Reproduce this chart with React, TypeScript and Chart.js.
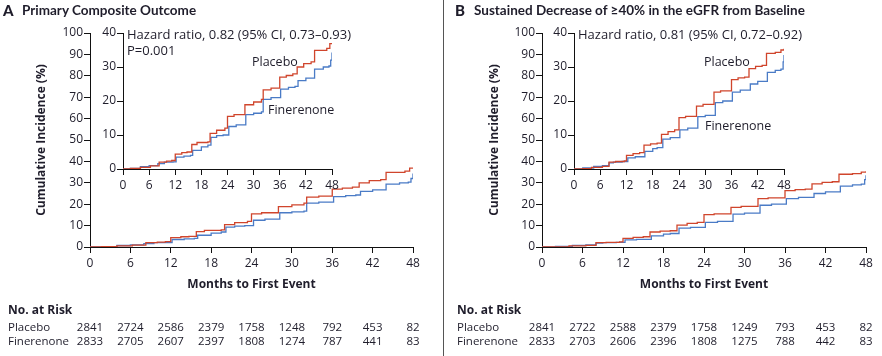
import React, { useEffect, useRef } from 'react';
import { Chart, registerables } from 'chart.js';

Chart.register(...registerables);

const FONT = '"Open Sans", Lato, sans-serif';
const TITLE_FONT = 'Lato, "Open Sans", sans-serif';
const TEXT = '#1f1d2b';
const RED = '#d0452c';
const BLUE = '#4a7bc6';
const AXIS = '#111111';

// ---------- Data ----------
const riskMonths = [0, 6, 12, 18, 24, 30, 36, 42, 48];

// Panel A: Primary composite outcome (cumulative incidence, %)
const placeboMonthsA = [0, 1.7, 4, 6.3, 8.3, 10, 11.2, 12, 13.5, 14.7, 15.8, 17, 19.5, 20, 21.5, 23.4, 24, 25.5, 28, 30, 31.8, 32.2, 34, 36, 37.5, 39, 40, 41.5, 43.2, 44, 46.8, 47.5, 48];
const placeboValuesA = [0, 0.2, 0.5, 0.9, 2.0, 2.3, 2.5, 4.4, 4.8, 5.0, 7.2, 7.8, 8.0, 10.5, 11.4, 12.0, 15.5, 16.0, 18.9, 19.7, 20.5, 23.3, 23.8, 27.0, 27.5, 28.0, 30.0, 31.0, 31.5, 34.9, 35.5, 36.9, 37.0];
const finerenoneMonthsA = [0, 1.7, 4, 6, 8, 9.5, 11.5, 12.2, 14, 15.5, 16, 18, 19.5, 20.2, 21.5, 23, 24.3, 26, 28.2, 30, 31.8, 32.2, 34, 36.2, 38, 39.5, 40.2, 42, 44, 46, 47.3, 47.7, 48];
const finerenoneValuesA = [0, 0.2, 0.7, 1.0, 1.6, 2.0, 2.1, 3.5, 3.8, 4.0, 5.5, 6.5, 7.0, 9.3, 9.8, 10.0, 12.5, 13.0, 16.0, 16.4, 16.8, 20.5, 21.0, 23.5, 24.0, 24.3, 26.0, 26.7, 29.4, 30.0, 30.3, 32.0, 34.3];
const riskPlaceboA = [2841, 2724, 2586, 2379, 1758, 1248, 792, 453, 82];
const riskFinerenoneA = [2833, 2705, 2607, 2397, 1808, 1274, 787, 441, 83];

// Panel B: Sustained decrease of >=40% in eGFR
const placeboMonthsB = [0, 2, 4, 6.5, 8, 9.5, 11.5, 12, 13.5, 15, 16, 17.5, 19, 20, 21.5, 23, 24, 25.5, 28, 29.5, 32, 33.5, 36, 37.5, 39, 40, 41.5, 43, 44, 46, 47.3, 48];
const placeboValuesB = [0, 0.1, 0.5, 0.8, 2.0, 2.2, 2.4, 4.0, 4.5, 4.8, 7.0, 7.4, 7.6, 10.2, 11.0, 11.5, 15.1, 15.5, 18.5, 19.0, 22.6, 23.0, 26.3, 26.8, 27.0, 29.5, 30.2, 30.5, 34.0, 34.3, 35.0, 35.4];
const finerenoneMonthsB = [0, 2, 4.5, 6.5, 8, 9, 11, 12.3, 14, 16.2, 18, 19, 20.3, 22, 24.2, 26, 28.3, 30, 32.3, 34, 36.2, 38, 40.3, 42, 44.2, 46, 47.3, 47.8, 48];
const finerenoneValuesB = [0, 0.3, 0.8, 1.0, 1.8, 2.0, 2.2, 3.3, 3.6, 5.2, 6.0, 6.3, 8.8, 9.2, 11.5, 12.0, 15.4, 15.8, 19.5, 20.0, 22.6, 23.2, 25.0, 25.8, 28.4, 29.0, 29.4, 31.5, 33.5];
const riskPlaceboB = [2841, 2722, 2588, 2379, 1758, 1249, 793, 453, 82];
const riskFinerenoneB = [2833, 2703, 2606, 2396, 1808, 1275, 788, 442, 83];

// ---------- helpers ----------
function points(t: number[], v: number[]) {
  return t.map((x, i) => ({ x, y: v[i] }));
}

type ChartParams = {
  yMax: number;
  axisW: number;
  axisH: number;
  pad: { top: number; right: number; bottom: number; left: number };
  placebo: { x: number; y: number }[];
  fin: { x: number; y: number }[];
  tickSize: number;
  tickPadX: number;
  yTitlePad?: number;
  xTitlePad?: number;
  extra?: any[];
};

function buildChart(canvas: HTMLCanvasElement, p: ChartParams) {
  const titleFont = { family: FONT, size: 12, weight: 'bold' as const };
  return new Chart(canvas, {
    type: 'line',
    data: {
      datasets: [
        { label: 'Placebo', data: p.placebo, borderColor: RED, borderWidth: 1.3, pointRadius: 0, stepped: 'before', fill: false },
        { label: 'Finerenone', data: p.fin, borderColor: BLUE, borderWidth: 1.3, pointRadius: 0, stepped: 'before', fill: false },
      ],
    },
    options: {
      animation: false,
      responsive: false,
      maintainAspectRatio: false,
      devicePixelRatio: 1,
      events: [],
      layout: { padding: p.pad },
      plugins: { legend: { display: false }, tooltip: { enabled: false }, title: { display: false } },
      scales: {
        x: {
          type: 'linear',
          min: 0,
          max: 48,
          ticks: { stepSize: 6, color: TEXT, font: { family: FONT, size: p.tickSize }, padding: p.tickPadX, maxRotation: 0, autoSkip: false },
          grid: { drawOnChartArea: false, drawTicks: true, tickLength: 6, color: AXIS, lineWidth: 1 },
          border: { display: true, color: AXIS, width: 1 },
          title: p.xTitlePad !== undefined
            ? { display: true, text: 'Months to First Event', color: TEXT, font: titleFont, padding: { top: 0, bottom: p.xTitlePad } }
            : { display: false },
          afterFit: (s: any) => { s.height = p.axisH; },
        },
        y: {
          type: 'linear',
          min: 0,
          max: p.yMax,
          ticks: { stepSize: 10, color: TEXT, font: { family: FONT, size: p.tickSize }, padding: 1 },
          grid: { drawOnChartArea: false, drawTicks: true, tickLength: 6, color: AXIS, lineWidth: 1 },
          border: { display: true, color: AXIS, width: 1 },
          title: p.yTitlePad !== undefined
            ? { display: true, text: 'Cumulative Incidence (%)', color: TEXT, font: titleFont, padding: { top: p.yTitlePad, bottom: 0 } }
            : { display: false },
          afterFit: (s: any) => { s.width = p.axisW; },
        },
      },
    } as any,
    plugins: p.extra ?? [],
  });
}

function riskTablePlugin(labelX: number, placebo: number[], fin: number[]) {
  return {
    id: 'riskTable',
    afterDraw(chart: any) {
      const { ctx } = chart;
      const xs = chart.scales.x;
      ctx.save();
      ctx.fillStyle = TEXT;
      ctx.textBaseline = 'middle';
      ctx.textAlign = 'left';
      ctx.font = `bold 12px ${FONT}`;
      ctx.fillText('No. at Risk', labelX, 311);
      ctx.font = `11.5px ${FONT}`;
      ctx.fillText('Placebo', labelX, 328);
      ctx.fillText('Finerenone', labelX, 342);
      ctx.textAlign = 'center';
      riskMonths.forEach((m, i) => {
        const x = xs.getPixelForValue(m);
        ctx.fillText(String(placebo[i]), x, 328);
        ctx.fillText(String(fin[i]), x, 342);
      });
      ctx.restore();
    },
  };
}

type Note = { text: string; x: number; cy: number; size: number };

type PanelProps = {
  left: number;
  width: number;
  letter: string;
  title: string;
  mainAxisW: number;
  mainPadRight: number;
  yTitlePad: number;
  tableLabelX: number;
  insetLeft: number;
  insetWidth: number;
  placeboT: number[];
  placeboV: number[];
  finT: number[];
  finV: number[];
  riskP: number[];
  riskF: number[];
  notes: Note[];
};

const MAIN_TOP = 33;
const MAIN_BOTTOM = 247;
const H = 356;
const INSET_TOP = 20;
const INSET_H = 173;

function Panel(props: PanelProps) {
  const mainRef = useRef<HTMLCanvasElement>(null);
  const insetRef = useRef<HTMLCanvasElement>(null);

  useEffect(() => {
    const placebo = points(props.placeboT, props.placeboV);
    const fin = points(props.finT, props.finV);
    const axisH = 50;
    const main = buildChart(mainRef.current!, {
      yMax: 100,
      axisW: props.mainAxisW,
      axisH,
      pad: { top: MAIN_TOP, right: props.mainPadRight, bottom: H - MAIN_BOTTOM - axisH, left: 0 },
      placebo,
      fin,
      tickSize: 12,
      tickPadX: 3,
      yTitlePad: props.yTitlePad,
      xTitlePad: 4.8,
      extra: [riskTablePlugin(props.tableLabelX, props.riskP, props.riskF)],
    });
    const inset = buildChart(insetRef.current!, {
      yMax: 40,
      axisW: 28,
      axisH: 24,
      pad: { top: 13, right: 13, bottom: 0, left: 0 },
      placebo,
      fin,
      tickSize: 12,
      tickPadX: 3,
    });
    return () => {
      main.destroy();
      inset.destroy();
    };
  }, []);

  return (
    <>
      <canvas
        ref={mainRef}
        width={props.width}
        height={H}
        style={{ position: 'absolute', left: props.left, top: 0, width: props.width, height: H }}
      />
      <canvas
        ref={insetRef}
        width={props.insetWidth}
        height={INSET_H}
        style={{ position: 'absolute', left: props.insetLeft, top: INSET_TOP, width: props.insetWidth, height: INSET_H }}
      />
      <div style={{ position: 'absolute', left: props.left + (props.letter === 'A' ? 3 : 11), top: 1, fontFamily: TITLE_FONT, fontWeight: 900, fontSize: 15, lineHeight: '18px', color: TEXT }}>
        {props.letter}
      </div>
      <div style={{ position: 'absolute', left: props.left + (props.letter === 'A' ? 22 : 30), top: 2, fontFamily: TITLE_FONT, fontWeight: 700, fontSize: 13.5, lineHeight: '17px', color: TEXT, whiteSpace: 'nowrap' }}>
        {props.title}
      </div>
      {props.notes.map((n, i) => (
        <div
          key={i}
          style={{ position: 'absolute', left: n.x, top: n.cy - 8, fontFamily: FONT, fontSize: n.size, lineHeight: '16px', color: TEXT, whiteSpace: 'nowrap' }}
        >
          {n.text}
        </div>
      ))}
    </>
  );
}

export default function App() {
  return (
    <div style={{ position: 'fixed', left: 0, top: 0, width: 882, height: H, background: '#ffffff', overflow: 'hidden' }}>
      <Panel
        left={0}
        width={441}
        letter="A"
        title="Primary Composite Outcome"
        mainAxisW={90}
        mainPadRight={28}
        yTitlePad={34.8}
        tableLabelX={8}
        insetLeft={95}
        insetWidth={250}
        placeboT={placeboMonthsA}
        placeboV={placeboValuesA}
        finT={finerenoneMonthsA}
        finV={finerenoneValuesA}
        riskP={riskPlaceboA}
        riskF={riskFinerenoneA}
        notes={[
          { text: 'Hazard ratio, 0.82 (95% CI, 0.73\u20130.93)', x: 127, cy: 34, size: 13 },
          { text: 'P=0.001', x: 127, cy: 50, size: 13 },
          { text: 'Placebo', x: 252, cy: 62, size: 12.5 },
          { text: 'Finerenone', x: 268, cy: 110, size: 12.5 },
        ]}
      />
      <div style={{ position: 'absolute', left: 443, top: 0, width: 1, height: H, background: '#555555' }} />
      <Panel
        left={444}
        width={438}
        letter="B"
        title={'Sustained Decrease of \u226540% in the eGFR from Baseline'}
        mainAxisW={98}
        mainPadRight={16}
        yTitlePad={43.8}
        tableLabelX={13}
        insetLeft={546}
        insetWidth={251}
        placeboT={placeboMonthsB}
        placeboV={placeboValuesB}
        finT={finerenoneMonthsB}
        finV={finerenoneValuesB}
        riskP={riskPlaceboB}
        riskF={riskFinerenoneB}
        notes={[
          { text: 'Hazard ratio, 0.81 (95% CI, 0.72\u20130.92)', x: 578, cy: 34, size: 13 },
          { text: 'Placebo', x: 704, cy: 62, size: 12.5 },
          { text: 'Finerenone', x: 705, cy: 126, size: 12.5 },
        ]}
      />
    </div>
  );
}
